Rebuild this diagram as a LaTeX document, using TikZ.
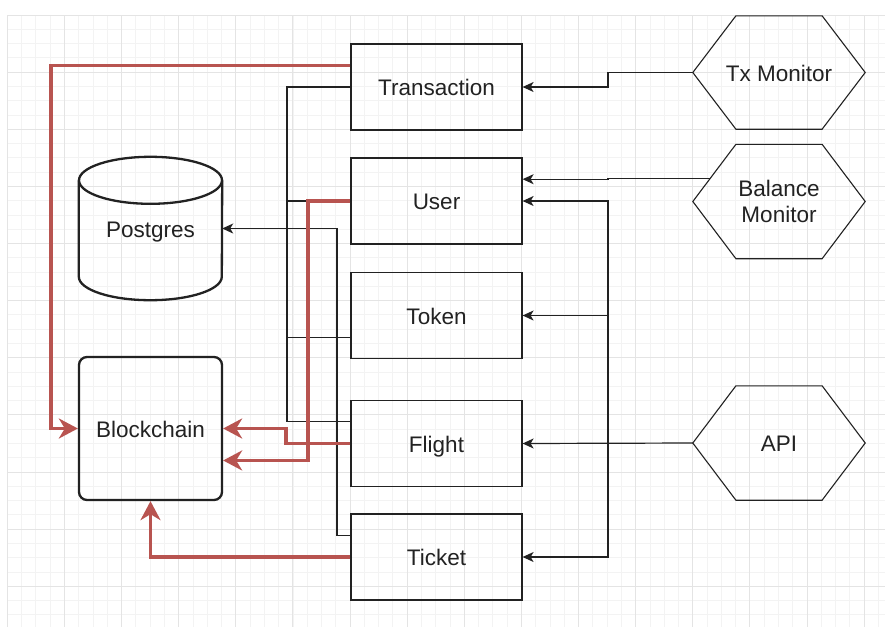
\documentclass[tikz,border=0pt]{standalone}
\usepackage{fontspec}
\setmainfont{Liberation Sans}
\usetikzlibrary{arrows.meta,calc}
\definecolor{linkred}{HTML}{B85450}
\definecolor{ink}{HTML}{222222}
\definecolor{gridmajor}{HTML}{E4E4E4}
\definecolor{gridminor}{HTML}{F3F3F3}

% outline of a flat hexagon laid over a rectangular node
\newcommand\hexoutline[1]{%
  \draw[hexline] (#1.west)
    -- ($(#1.north west)!.25!(#1.north east)$)
    -- ($(#1.north west)!.75!(#1.north east)$)
    -- (#1.east)
    -- ($(#1.south west)!.75!(#1.south east)$)
    -- ($(#1.south west)!.25!(#1.south east)$)
    -- cycle;}

\begin{document}
\begin{tikzpicture}[x=1pt,y=-1pt,
  lbl/.style={font=\fontsize{22.5}{26}\selectfont, text=ink, align=center},
  oneline/.style={text height=17.5pt, text depth=0pt},
  box/.style={lbl, oneline, draw=ink, line width=1.2pt, minimum width=171pt,
    minimum height=86pt, inner sep=0pt},
  hexnode/.style={lbl, minimum width=172pt, minimum height=114pt, inner sep=0pt},
  hexline/.style={draw=ink, line width=1.1pt, line join=miter},
  storenode/.style={lbl, oneline, minimum width=143pt, minimum height=143pt, inner sep=0pt},
  chainbox/.style={storenode, draw=ink, line width=2.3pt, rounded corners=8pt},
  cylline/.style={draw=ink, line width=2.3pt},
  wire/.style={draw=ink, line width=1.2pt},
  feed/.style={wire, -{Stealth[length=11pt,width=10pt,inset=3pt]}},
  redlink/.style={draw=linkred, line width=3.2pt,
    -{Stealth[length=19pt,width=20pt,inset=6pt]}},
  minorgrid/.style={draw=gridminor, line width=0.8pt},
  majorgrid/.style={draw=gridmajor, line width=0.9pt}]

\useasboundingbox (0,0) rectangle (885,627);
\fill[white] (0,0) rectangle (885,627);

% background grid
\foreach \i in {0,...,61}
  \draw[minorgrid] ({7.3+\i*14.28},15) -- ({7.3+\i*14.28},627);
\foreach \i in {0,...,43}
  \draw[minorgrid] (7.3,{15+\i*14.28}) -- (885,{15+\i*14.28});
\foreach \i in {0,...,15}
  \draw[majorgrid] ({7.3+\i*57.12},15) -- ({7.3+\i*57.12},627);
\foreach \i in {0,...,10}
  \draw[majorgrid] (7.3,{15+\i*57.12}) -- (885,{15+\i*57.12});

% service boxes
\node[box] (trans)  at (436.5,87)    {Transaction};
\node[box] (user)   at (436.5,201)   {User};
\node[box] (token)  at (436.5,315.5) {Token};
\node[box] (flight) at (436.5,443.5) {Flight};
\node[box] (ticket) at (436.5,557)   {Ticket};

% storage
\node[storenode] (pg) at (150.5,228.5) {Postgres};
\draw[cylline] ($(pg.north west)+(0,23.5)$) -- ($(pg.south west)+(0,-23.5)$)
  arc[start angle=180, end angle=360, x radius=71.5pt, y radius=23.5pt]
  -- ($(pg.north east)+(0,23.5)$);
\draw[cylline] ($(pg.north)+(0,23.5)$) ellipse[x radius=71.5pt, y radius=23.5pt];
\node[chainbox] (bc) at (150.5,428.5) {Blockchain};

% external actors
\node[hexnode, oneline, minimum height=113pt] (txm) at (779,72.5) {Tx Monitor};
\node[hexnode] (bal) at (779,201.5) {Balance\\Monitor};
\node[hexnode, oneline] (api) at (779,443) {API};
\hexoutline{txm}
\hexoutline{bal}
\hexoutline{api}

% helper columns for the routed links
\coordinate (xr)  at (608,0);
\coordinate (xa)  at (287,0);
\coordinate (xp)  at (337,0);
\coordinate (xu)  at (308,0);
\coordinate (xf)  at (286,0);
\coordinate (xt)  at (51,0);

% attachment points on box sides
\coordinate (transTop)  at ($(trans.north west)!.25!(trans.south west)$);
\coordinate (tokenLow)  at ($(token.north west)!.75!(token.south west)$);
\coordinate (flightTop) at ($(flight.north west)!.25!(flight.south west)$);
\coordinate (ticketTop) at ($(ticket.north west)!.25!(ticket.south west)$);
\coordinate (userRight) at ($(user.north east)!.25!(user.south east)$);
\coordinate (bcLowR)    at ($(bc.north east)!.72!(bc.south east)$);
\coordinate (balCorner) at ($(bal.north west)!.25!(bal.north east)$);
\coordinate (balOut)    at ($(bal.west)!.4!(balCorner)$);

% plain links between the services
\draw[wire] (trans.west) -- (trans.west -| xa) -- (flightTop -| xa) -- (flightTop);
\draw[wire] (user.west) -- (user.west -| xa);
\draw[wire] (tokenLow) -- (tokenLow -| xa);
\draw[feed] (ticketTop) -- (ticketTop -| xp) -- (pg.east -| xp) -- (pg.east);

% feeds from the monitors and the API
\draw[feed] (txm.west) -- (txm.west -| xr) -- (trans.east -| xr) -- (trans.east);
\draw[feed] (balOut) -- (balOut -| xr) -- (userRight -| xr) -- (userRight);
\draw[feed] (api.west) -- (flight.east);
\draw[feed] (api.west -| xr) -- (user.east -| xr) -- (user.east);
\draw[feed] (api.west -| xr) -- (token.east -| xr) -- (token.east);
\draw[feed] (api.west -| xr) -- (ticket.east -| xr) -- (ticket.east);

% writes to the blockchain
\draw[redlink] (transTop) -- (transTop -| xt) -- (bc.west -| xt) -- (bc.west);
\draw[redlink] (user.west) -- (user.west -| xu) -- (bcLowR -| xu) -- (bcLowR);
\draw[redlink] (flight.west) -- (flight.west -| xf) -- (bc.east -| xf) -- (bc.east);
\draw[redlink] (ticket.west) -- (ticket.west -| bc.south) -- (bc.south);
\end{tikzpicture}
\end{document}
